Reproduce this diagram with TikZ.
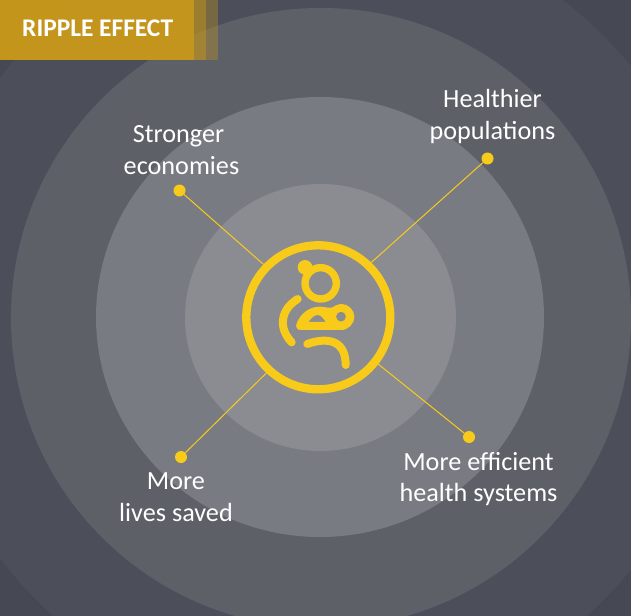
\documentclass[tikz,border=0pt]{standalone}
\usepackage{fontspec}
\setmainfont{Carlito}
\definecolor{bgA}{HTML}{464853}
\definecolor{bgB}{HTML}{4C4E5A}
\definecolor{bgC}{HTML}{5E6068}
\definecolor{bgD}{HTML}{797B83}
\definecolor{bgE}{HTML}{8B8C91}
\definecolor{acc}{HTML}{F8CB1A}
\definecolor{gold}{HTML}{C8981A}
\tikzset{
  lbl/.style={text=white,font=\fontsize{26.3}{32}\selectfont,align=center,inner sep=0pt},
  dotnode/.style={circle,fill=acc,inner sep=0pt,minimum size=12bp},
  spoke/.style={draw=acc,line width=1bp},
  iconline/.style={draw=acc,line cap=round,line width=8bp},
}
\begin{document}
\begin{tikzpicture}[x=1bp,y=-1bp]
\useasboundingbox (0,0) rectangle (631,616);
\clip (0,0) rectangle (631,616);
\fill[bgA] (0,0) rectangle (631,616);
\fill[bgB] (320,318) circle[radius=400bp];
\fill[bgC] (321,318) circle[radius=310bp];
\fill[bgD] (320,317) ellipse[x radius=224bp,y radius=220bp];
\fill[bgE] (320.5,317.5) ellipse[x radius=135.5bp,y radius=133.5bp];
% banner
\fill[gold,opacity=.35] (0,0) rectangle (218,60);
\fill[gold,opacity=.45] (0,0) rectangle (206,60);
\fill[gold,opacity=.9] (0,0) rectangle (194,60);
\node[text=white,font=\fontsize{25.5}{28}\selectfont\bfseries,anchor=west,inner sep=0pt] (title) at (22,28.5) {RIPPLE EFFECT};
% hub and spokes
\node[circle,draw=acc,line width=8.3bp,minimum size=144bp,inner sep=0pt] (hub) at (318.3,317.3) {};
\node[dotnode] (dne) at (487.5,158.5) {};
\node[dotnode] (dnw) at (179.5,190.5) {};
\node[dotnode] (dsw) at (181,457) {};
\node[dotnode] (dse) at (469,437) {};
\draw[spoke] (hub.46.7) -- (dne);
\draw[spoke] (hub.136) -- (dnw);
\draw[spoke] (hub.227) -- (dsw);
\draw[spoke] (hub.322) -- (dse);
% labels
\node[lbl] (lne) at (492.5,116.5) {Healthier\\populations};
\node[lbl] (lnw) at (181.5,150) {Stronger\hspace*{6bp}\\economies};
\node[lbl] (lsw) at (176,497.5) {More\\lives saved};
\node[lbl] (lse) at (478.5,479) {More efficient\\health systems};
% mother and baby icon
\begin{scope}[shift={(230,230)},x=.33333bp,y=-.33333bp]
  \draw[acc,line width=7.4bp] (272,160) circle[radius=47];
  \fill[acc] (225,112) circle[radius=22];
  \draw[iconline] (203,207) .. controls (150,240) and (145,295) .. (185,337);
  \draw[iconline] (232,342) .. controls (270,328) and (347,315) .. (347,405);
  \fill[acc,even odd rule]
    (212,300) .. controls (200,300) and (196,290) .. (200,280)
    .. controls (212,250) and (238,230) .. (270,230)
    .. controls (285,230) and (298,236) .. (308,232)
    .. controls (318,224) and (330,222) .. (335,222)
    .. controls (355,222) and (373,240) .. (373,260)
    .. controls (373,282) and (355,300) .. (333,300) -- cycle
    (333,260) circle[radius=15]
    (235,276) .. controls (245,262) and (255,255) .. (263,255)
    .. controls (272,255) and (280,264) .. (287,276) -- cycle;
\end{scope}
\end{tikzpicture}
\end{document}
